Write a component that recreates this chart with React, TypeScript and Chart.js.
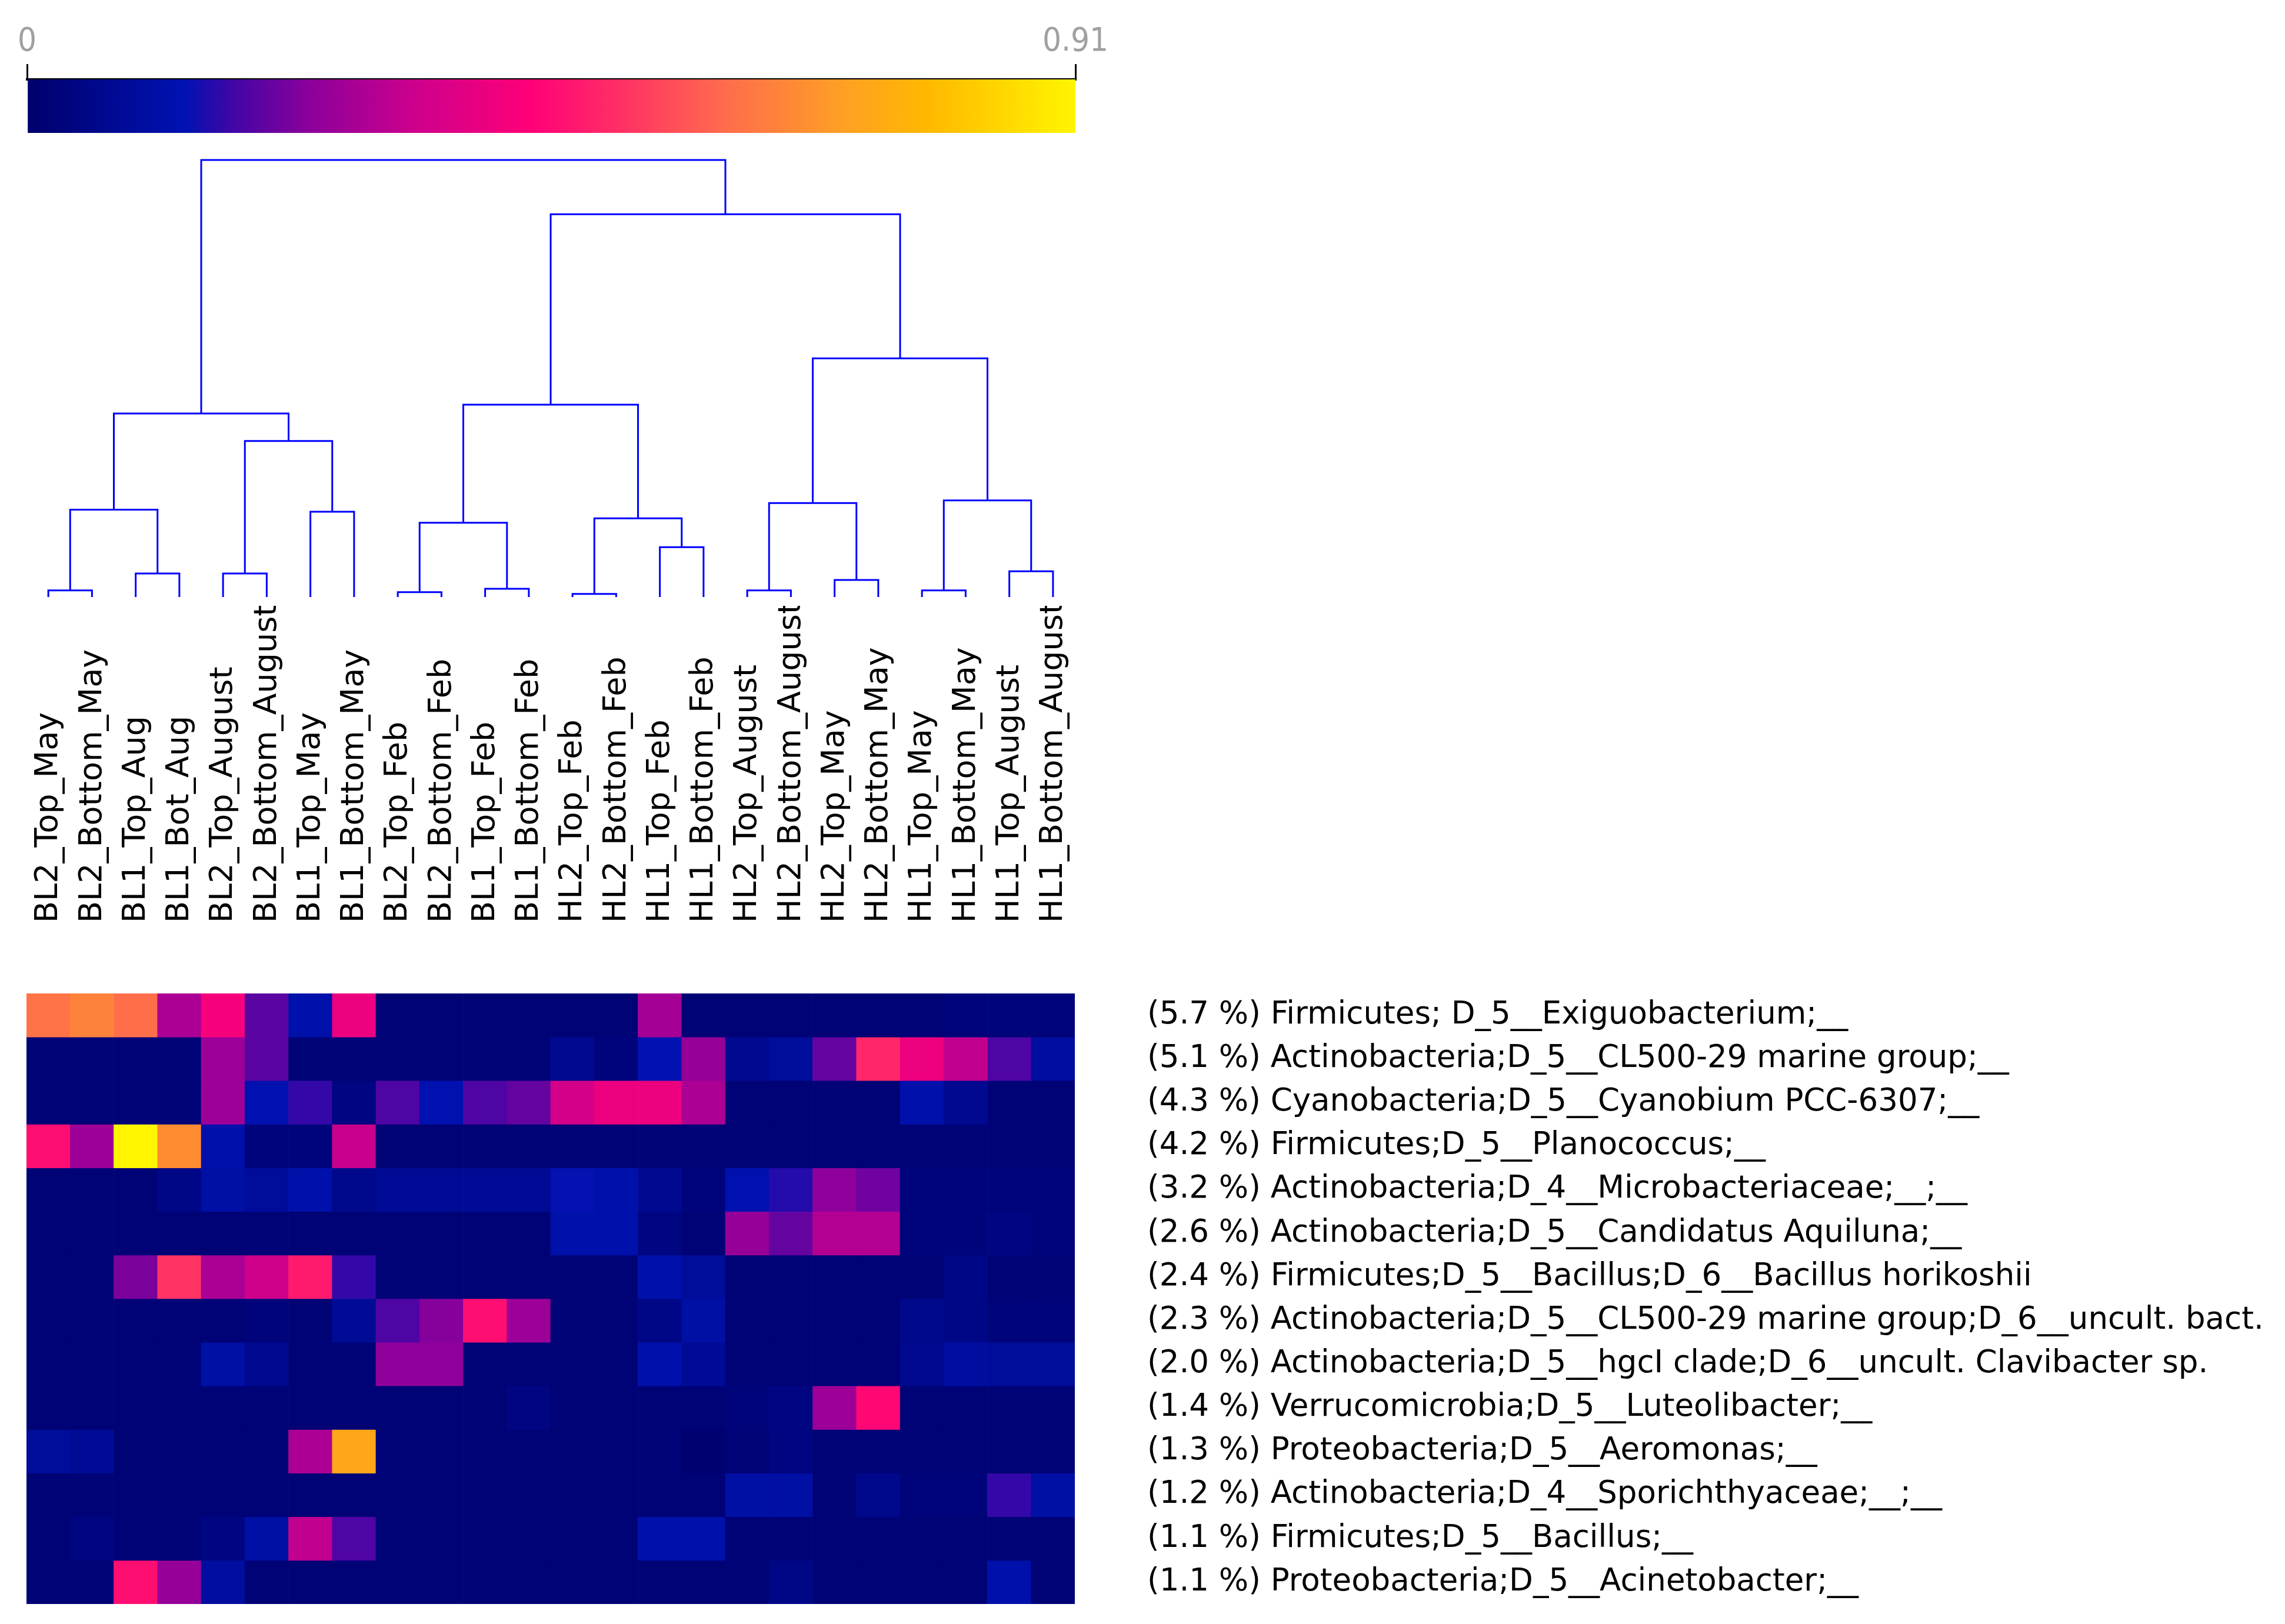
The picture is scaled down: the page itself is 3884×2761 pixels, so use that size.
import React, { useEffect, useRef } from "react";
import { Chart, registerables } from "chart.js";

Chart.register(...registerables);

const FONT = "'DejaVu Sans', Verdana, sans-serif";
const FONT_COND = "'DejaVu Sans Condensed', 'DejaVu Sans', sans-serif";

const sampleLabels = [
  "BL2_Top_May", "BL2_Bottom_May", "BL1_Top_Aug", "BL1_Bot_Aug",
  "BL2_Top_August", "BL2_Bottom_August", "BL1_Top_May", "BL1_Bottom_May",
  "BL2_Top_Feb", "BL2_Bottom_Feb", "BL1_Top_Feb", "BL1_Bottom_Feb",
  "HL2_Top_Feb", "HL2_Bottom_Feb", "HL1_Top_Feb", "HL1_Bottom_Feb",
  "HL2_Top_August", "HL2_Bottom_August", "HL2_Top_May", "HL2_Bottom_May",
  "HL1_Top_May", "HL1_Bottom_May", "HL1_Top_August", "HL1_Bottom_August",
];

const taxonLabels = [
  "(5.7 %) Firmicutes; D_5__Exiguobacterium;__",
  "(5.1 %) Actinobacteria;D_5__CL500-29 marine group;__",
  "(4.3 %) Cyanobacteria;D_5__Cyanobium PCC-6307;__",
  "(4.2 %) Firmicutes;D_5__Planococcus;__",
  "(3.2 %) Actinobacteria;D_4__Microbacteriaceae;__;__",
  "(2.6 %) Actinobacteria;D_5__Candidatus Aquiluna;__",
  "(2.4 %) Firmicutes;D_5__Bacillus;D_6__Bacillus horikoshii",
  "(2.3 %) Actinobacteria;D_5__CL500-29 marine group;D_6__uncult. bact.",
  "(2.0 %) Actinobacteria;D_5__hgcI clade;D_6__uncult. Clavibacter sp.",
  "(1.4 %) Verrucomicrobia;D_5__Luteolibacter;__",
  "(1.3 %) Proteobacteria;D_5__Aeromonas;__",
  "(1.2 %) Actinobacteria;D_4__Sporichthyaceae;__;__",
  "(1.1 %) Firmicutes;D_5__Bacillus;__",
  "(1.1 %) Proteobacteria;D_5__Acinetobacter;__",
];

const colorScaleMin = 0;
const colorScaleMax = 0.91;
const colorScaleTicks = [0, 0.91];

// relative abundance per taxon (rows) and sample (columns)
const exiguobacterium = [0.62, 0.65, 0.61, 0.29, 0.42, 0.20, 0.12, 0.40, 0.02, 0.02, 0.02, 0.02, 0.02, 0.02, 0.28, 0.02, 0.02, 0.02, 0.02, 0.02, 0.02, 0.03, 0.03, 0.03];
const cl500Marine = [0.02, 0.02, 0.02, 0.02, 0.27, 0.20, 0.02, 0.02, 0.02, 0.02, 0.02, 0.02, 0.07, 0.03, 0.13, 0.26, 0.07, 0.09, 0.21, 0.50, 0.40, 0.32, 0.19, 0.10];
const cyanobium = [0.02, 0.02, 0.02, 0.02, 0.27, 0.13, 0.17, 0.04, 0.19, 0.13, 0.19, 0.21, 0.35, 0.40, 0.40, 0.29, 0.02, 0.02, 0.02, 0.02, 0.12, 0.07, 0.02, 0.02];
const planococcus = [0.46, 0.27, 0.91, 0.67, 0.12, 0.03, 0.03, 0.33, 0.02, 0.02, 0.02, 0.02, 0.02, 0.02, 0.02, 0.02, 0.02, 0.02, 0.02, 0.02, 0.02, 0.02, 0.02, 0.02];
const microbacteriaceae = [0.02, 0.02, 0.02, 0.05, 0.11, 0.09, 0.12, 0.06, 0.08, 0.08, 0.08, 0.08, 0.14, 0.12, 0.07, 0.03, 0.13, 0.16, 0.25, 0.22, 0.03, 0.03, 0.03, 0.03];
const aquiluna = [0.02, 0.02, 0.02, 0.02, 0.02, 0.02, 0.02, 0.02, 0.02, 0.02, 0.02, 0.02, 0.12, 0.12, 0.04, 0.02, 0.26, 0.21, 0.30, 0.30, 0.03, 0.03, 0.04, 0.03];
const bacillusHorikoshii = [0.02, 0.02, 0.23, 0.52, 0.29, 0.34, 0.48, 0.17, 0.02, 0.02, 0.02, 0.02, 0.02, 0.02, 0.12, 0.09, 0.02, 0.02, 0.02, 0.02, 0.02, 0.05, 0.02, 0.02];
const cl500Uncult = [0.02, 0.02, 0.02, 0.02, 0.02, 0.03, 0.02, 0.08, 0.19, 0.24, 0.46, 0.27, 0.02, 0.02, 0.05, 0.11, 0.02, 0.02, 0.02, 0.02, 0.06, 0.05, 0.03, 0.03];
const hgcIClade = [0.02, 0.02, 0.02, 0.02, 0.11, 0.07, 0.02, 0.02, 0.25, 0.25, 0.02, 0.02, 0.02, 0.02, 0.12, 0.08, 0.02, 0.02, 0.02, 0.02, 0.07, 0.10, 0.09, 0.09];
const luteolibacter = [0.02, 0.02, 0.02, 0.02, 0.02, 0.02, 0.02, 0.02, 0.02, 0.02, 0.02, 0.04, 0.02, 0.02, 0.02, 0.02, 0.03, 0.04, 0.27, 0.45, 0.02, 0.02, 0.02, 0.02];
const aeromonas = [0.09, 0.08, 0.02, 0.02, 0.02, 0.02, 0.29, 0.73, 0.02, 0.02, 0.02, 0.02, 0.02, 0.02, 0.02, 0.01, 0.02, 0.04, 0.02, 0.02, 0.02, 0.02, 0.02, 0.02];
const sporichthyaceae = [0.02, 0.02, 0.02, 0.02, 0.02, 0.02, 0.02, 0.02, 0.02, 0.02, 0.02, 0.02, 0.02, 0.02, 0.02, 0.02, 0.11, 0.11, 0.02, 0.06, 0.03, 0.03, 0.17, 0.11];
const bacillus = [0.02, 0.04, 0.02, 0.02, 0.04, 0.11, 0.32, 0.19, 0.02, 0.02, 0.02, 0.02, 0.02, 0.02, 0.12, 0.12, 0.02, 0.02, 0.02, 0.02, 0.02, 0.02, 0.02, 0.02];
const acinetobacter = [0.02, 0.02, 0.46, 0.26, 0.10, 0.02, 0.02, 0.02, 0.02, 0.02, 0.02, 0.02, 0.02, 0.02, 0.02, 0.02, 0.02, 0.05, 0.02, 0.02, 0.02, 0.02, 0.12, 0.02];

const heatRows = [
  exiguobacterium, cl500Marine, cyanobium, planococcus, microbacteriaceae,
  aquiluna, bacillusHorikoshii, cl500Uncult, hgcIClade, luteolibacter,
  aeromonas, sporichthyaceae, bacillus, acinetobacter,
];

// dendrogram merges: [left node, right node, height]; leaves are 0..23, merges 24..
const dendroMerges: [number, number, number][] = [
  [0, 1, 0.015],
  [2, 3, 0.054],
  [4, 5, 0.054],
  [6, 7, 0.195],
  [24, 25, 0.2],
  [26, 27, 0.357],
  [28, 29, 0.42],
  [8, 9, 0.011],
  [10, 11, 0.019],
  [31, 32, 0.17],
  [12, 13, 0.007],
  [14, 15, 0.114],
  [34, 35, 0.18],
  [33, 36, 0.44],
  [16, 17, 0.015],
  [18, 19, 0.039],
  [38, 39, 0.215],
  [20, 21, 0.015],
  [22, 23, 0.059],
  [41, 42, 0.221],
  [40, 43, 0.546],
  [37, 44, 0.876],
  [30, 45, 1.0],
];

const colorStops: [number, number, number, number][] = [
  [0.0, 0, 0, 108],
  [0.15, 0, 18, 178],
  [0.2, 70, 5, 165],
  [0.27, 140, 0, 155],
  [0.37, 205, 0, 140],
  [0.48, 255, 0, 120],
  [0.57, 255, 50, 100],
  [0.67, 255, 110, 75],
  [0.78, 255, 160, 35],
  [0.86, 255, 185, 0],
  [1.0, 255, 245, 0],
];

function colormap(v: number): string {
  const t = Math.max(0, Math.min(1, (v - colorScaleMin) / (colorScaleMax - colorScaleMin)));
  for (let i = 1; i < colorStops.length; i++) {
    const [t1, r1, g1, b1] = colorStops[i];
    const [t0, r0, g0, b0] = colorStops[i - 1];
    if (t <= t1) {
      const f = (t - t0) / (t1 - t0);
      const r = Math.round(r0 + (r1 - r0) * f);
      const g = Math.round(g0 + (g1 - g0) * f);
      const b = Math.round(b0 + (b1 - b0) * f);
      return `rgb(${r},${g},${b})`;
    }
  }
  const last = colorStops[colorStops.length - 1];
  return `rgb(${last[1]},${last[2]},${last[3]})`;
}

export default function App() {
  const barRef = useRef<HTMLCanvasElement>(null);
  const treeRef = useRef<HTMLCanvasElement>(null);
  const heatRef = useRef<HTMLCanvasElement>(null);

  useEffect(() => {
    const charts: Chart[] = [];
    const noPlugins = { legend: { display: false }, tooltip: { enabled: false } };

    // colour bar
    charts.push(
      new Chart(barRef.current as HTMLCanvasElement, {
        type: "bar",
        data: {
          labels: ["scale"],
          datasets: [
            {
              data: [[colorScaleMin, colorScaleMax]] as any,
              backgroundColor: (ctx: any) => {
                const area = ctx.chart.chartArea;
                if (!area) return colormap(0);
                const g = ctx.chart.ctx.createLinearGradient(area.left, 0, area.right, 0);
                colorStops.forEach(([t, r, gg, b]) => g.addColorStop(t, `rgb(${r},${gg},${b})`));
                return g;
              },
              borderWidth: 0,
              barPercentage: 1,
              categoryPercentage: 1,
            },
          ],
        },
        options: {
          indexAxis: "y",
          responsive: false,
          animation: false,
          events: [],
          layout: { padding: { left: 46, right: 72, top: 0, bottom: 14 } },
          plugins: noPlugins,
          scales: {
            x: {
              type: "linear",
              position: "top",
              min: colorScaleMin,
              max: colorScaleMax,
              afterBuildTicks: (s: any) => {
                s.ticks = colorScaleTicks.map((v) => ({ value: v }));
              },
              afterFit: (s: any) => {
                s.height = 135;
                s.paddingLeft = 0;
                s.paddingRight = 0;
              },
              grid: { drawOnChartArea: false, color: "#000", lineWidth: 3, tickLength: 26 },
              border: { color: "#000", width: 4 },
              ticks: {
                color: "#a0a0a0",
                font: { family: FONT_COND, size: 56 },
                padding: 4,
                maxRotation: 0,
                autoSkip: false,
                callback: (v: any) => String(v),
              },
            },
            y: { display: false },
          },
        } as any,
      })
    );

    // dendrogram
    const nodeX: number[] = sampleLabels.map((_, i) => i);
    const nodeH: number[] = sampleLabels.map(() => 0);
    const treeSets = dendroMerges.map(([a, b, h]) => {
      const pts = [
        { x: nodeX[a], y: nodeH[a] },
        { x: nodeX[a], y: h },
        { x: nodeX[b], y: h },
        { x: nodeX[b], y: nodeH[b] },
      ];
      nodeX.push((nodeX[a] + nodeX[b]) / 2);
      nodeH.push(h);
      return {
        data: pts,
        showLine: true,
        borderColor: "#0000ff",
        borderWidth: 3,
        pointRadius: 0,
        fill: false,
        tension: 0,
        borderJoinStyle: "miter",
        clip: 10,
      };
    });
    charts.push(
      new Chart(treeRef.current as HTMLCanvasElement, {
        type: "scatter",
        data: { datasets: treeSets as any },
        options: {
          responsive: false,
          animation: false,
          events: [],
          layout: { padding: { left: 45, right: 73, top: 32, bottom: 15 } },
          plugins: noPlugins,
          scales: {
            x: { type: "linear", min: -0.5, max: sampleLabels.length - 0.5, display: false },
            y: { type: "linear", min: 0, max: 1, display: false },
          },
        } as any,
      })
    );

    // heatmap
    const heatSets = heatRows.map((row, r) => ({
      label: taxonLabels[r],
      data: row.map(() => [r, r + 1]),
      backgroundColor: row.map((v) => colormap(v)),
      borderWidth: 0,
      barPercentage: 1,
      categoryPercentage: 1,
      grouped: false,
    }));
    charts.push(
      new Chart(heatRef.current as HTMLCanvasElement, {
        type: "bar",
        data: { labels: sampleLabels, datasets: heatSets as any },
        options: {
          responsive: false,
          animation: false,
          events: [],
          layout: { padding: { left: 45, right: 0, top: 0, bottom: 34 } },
          plugins: noPlugins,
          scales: {
            x: {
              type: "category",
              position: "top",
              grid: { display: false },
              border: { display: false },
              afterFit: (s: any) => {
                s.height = 659;
                s.paddingLeft = 0;
                s.paddingRight = 0;
              },
              ticks: {
                autoSkip: false,
                minRotation: 90,
                maxRotation: 90,
                padding: 112,
                labelOffset: 66,
                color: "#000",
                font: { family: FONT, size: 54 },
              },
            },
            y: {
              type: "linear",
              position: "right",
              reverse: true,
              min: 0,
              max: heatRows.length,
              grid: { display: false },
              border: { display: false },
              afterBuildTicks: (s: any) => {
                s.ticks = taxonLabels.map((_, i) => ({ value: i + 0.5 }));
              },
              afterFit: (s: any) => {
                s.width = 2057;
                s.paddingTop = 0;
                s.paddingBottom = 0;
              },
              ticks: {
                autoSkip: false,
                padding: 115,
                color: "#000",
                font: { family: FONT, size: 53 },
                callback: (v: any) => taxonLabels[Math.floor(Number(v))],
              },
            },
          },
        } as any,
      })
    );

    return () => charts.forEach((c) => c.destroy());
  }, []);

  return (
    <div style={{ position: "relative", width: 3884, height: 2761, background: "#fff", overflow: "hidden" }}>
      <style>{"body{margin:0}"}</style>
      <canvas ref={barRef} width={1900} height={240} style={{ position: "absolute", left: 0, top: 0 }} />
      <canvas ref={treeRef} width={1900} height={790} style={{ position: "absolute", left: 0, top: 240 }} />
      <canvas ref={heatRef} width={3884} height={1731} style={{ position: "absolute", left: 0, top: 1030 }} />
    </div>
  );
}
